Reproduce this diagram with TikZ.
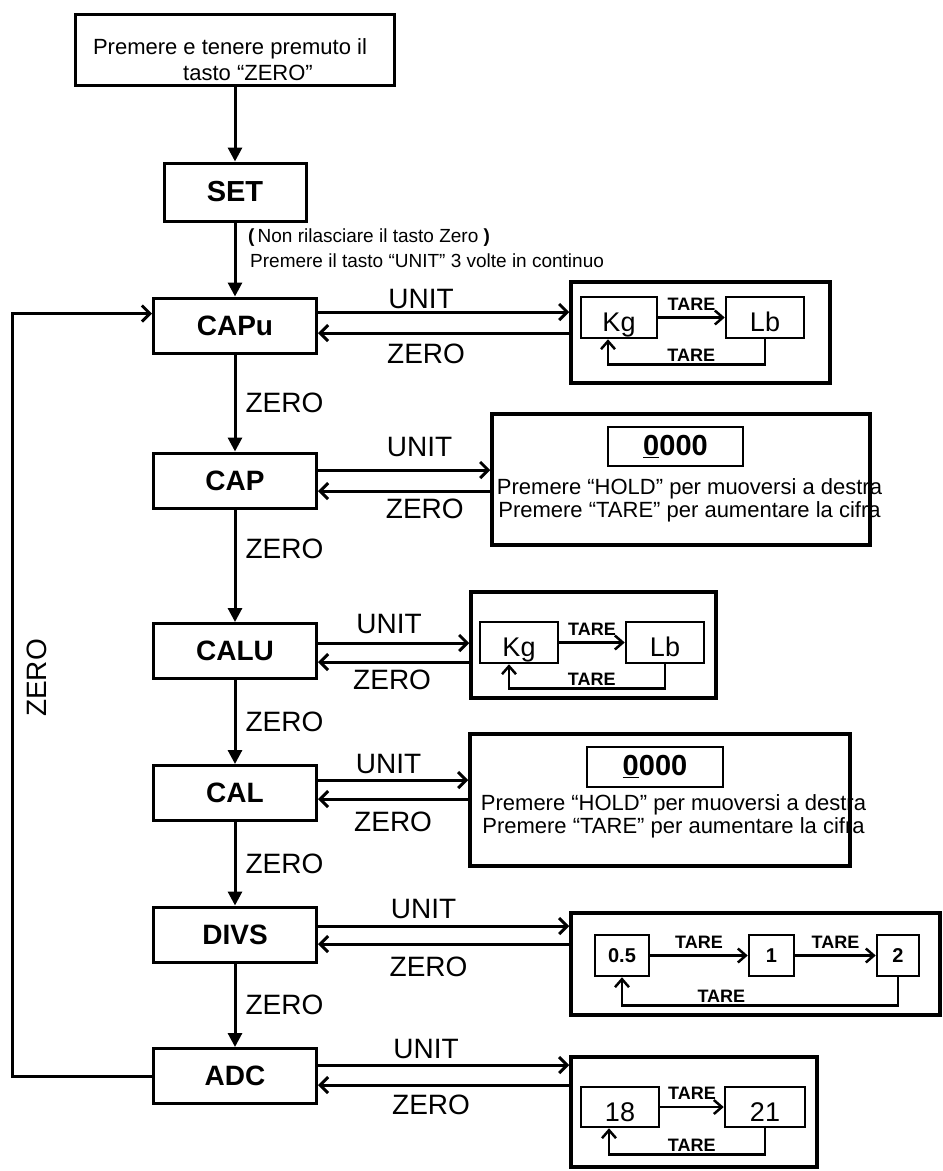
\documentclass[tikz,border=0pt]{standalone}
\usepackage{fontspec}
\setmainfont{Liberation Sans}
\usetikzlibrary{positioning,arrows.meta}

\newcommand{\fsz}[1]{\fontsize{#1}{#1}\selectfont}

\begin{document}
\begin{tikzpicture}[x=1pt,y=-1pt,every node/.style={inner sep=0pt},
  mainbox/.style={draw,line width=3pt,minimum width=163pt,minimum height=55pt,font=\fsz{28}\bfseries},
  outbox/.style={draw,line width=3.5pt},
  inbox/.style={draw,line width=2.5pt,minimum height=41pt,text height=28pt,text depth=0pt,font=\fsz{27}},
  numbox/.style={draw,line width=2.5pt,minimum height=41pt,font=\fsz{20}\bfseries},
  lab/.style={font=\fsz{28}},
  tlab/.style={font=\fsz{18}\bfseries},
  note/.style={font=\fontsize{22}{23}\selectfont,align=center},
  varr/.style={line width=3pt,-{Triangle[length=14pt,width=14pt]}},
  harr/.style={line width=3pt,-{Straight Barb[length=8pt,width=16pt]}},
  iarr/.style={line width=2.5pt,-{Straight Barb[length=8pt,width=14pt]}}]
\useasboundingbox (0,0) rectangle (943,1171);

% main column
\node[draw,line width=3pt,minimum width=319pt,minimum height=71pt] (start) at (235,49.5) {};
\node[font=\fontsize{22}{26}\selectfont,align=center] (starttxt) at (230,60)
  {Premere e tenere premuto il\\\hspace*{36pt}tasto “ZERO”};
\node[mainbox,minimum width=142pt,minimum height=58pt,font=\fsz{29}\bfseries] (set) at (235,192) {SET};
\node[anchor=west,font=\fsz{19}] (hint1) at (248,238) {\textbf{(}\,Non rilasciare il tasto Zero \textbf{)}};
\node[anchor=west,font=\fsz{19}] (hint2) at (250,261) {Premere il tasto “UNIT” 3 volte in continuo};
\node[mainbox] (capu) at (235,325.5) {CAPu};
\node[mainbox] (cap)  at (235,480.5) {CAP};
\node[mainbox] (calu) at (235,651)   {CALU};
\node[mainbox] (cal)  at (235,793)   {CAL};
\node[mainbox] (divs) at (235,934.5) {DIVS};
\node[mainbox] (adc)  at (235,1076)  {ADC};

\draw[varr] (start) -- (set);
\draw[varr] (set) -- (capu);
\draw[varr] (capu) -- node[lab,right=9pt]{ZERO} (cap);
\draw[varr] (cap) -- node[lab,right=9pt,pos=0.35]{ZERO} (calu);
\draw[varr] (calu) -- node[lab,right=9pt]{ZERO} (cal);
\draw[varr] (cal) -- node[lab,right=9pt]{ZERO} (divs);
\draw[varr] (divs) -- node[lab,right=9pt]{ZERO} (adc);

% loop back
\coordinate (loopx) at (12,0);
\coordinate (loopin) at ([yshift=12pt]capu.west);
\draw[harr] (adc.west) -- (adc.west -| loopx) |- (loopin);
\node[lab,rotate=90] (looplab) at (37,678) {ZERO};

% setting panels
\node[outbox,minimum width=259pt,minimum height=101pt] (subA) at (700.5,332.5) {};
\node[outbox,minimum width=378pt,minimum height=131pt] (subB) at (681,479.5) {};
\node[outbox,minimum width=245pt,minimum height=106pt] (subC) at (593.5,645) {};
\node[outbox,minimum width=380pt,minimum height=132pt] (subD) at (660,800) {};
\node[outbox,minimum width=369pt,minimum height=102pt] (subE) at (755.5,964) {};
\node[outbox,minimum width=246pt,minimum height=110pt] (subF) at (694,1112) {};

% main <-> panels
\coordinate (u1) at ([yshift=13.5pt]capu.east);
\coordinate (z1) at ([yshift=-7.5pt]capu.east);
\draw[harr] (u1) -- (u1 -| subA.west) node[lab,pos=0.41,above=2pt]{UNIT};
\draw[harr] (z1 -| subA.west) -- (z1) node[lab,pos=0.57,below=9pt]{ZERO};

\coordinate (u2) at ([yshift=10.5pt]cap.east);
\coordinate (z2) at ([yshift=-10.5pt]cap.east);
\draw[harr] (u2) -- (u2 -| subB.west) node[lab,pos=0.59,above=12pt]{UNIT};
\draw[harr] (z2 -| subB.west) -- (z2) node[lab,pos=0.38,below=6pt]{ZERO};

\coordinate (u3) at ([yshift=8pt]calu.east);
\coordinate (z3) at ([yshift=-11pt]calu.east);
\draw[harr] (u3) -- (u3 -| subC.west) node[lab,pos=0.47,above=8pt]{UNIT};
\draw[harr] (z3 -| subC.west) -- (z3) node[lab,pos=0.51,below=6pt]{ZERO};

\coordinate (u4) at ([yshift=13pt]cal.east);
\coordinate (z4) at ([yshift=-6pt]cal.east);
\draw[harr] (u4) -- (u4 -| subD.west) node[lab,pos=0.47,above=5pt]{UNIT};
\draw[harr] (z4 -| subD.west) -- (z4) node[lab,pos=0.5,below=11pt]{ZERO};

\coordinate (u5) at ([yshift=8.5pt]divs.east);
\coordinate (z5) at ([yshift=-9.5pt]divs.east);
\draw[harr] (u5) -- (u5 -| subE.west) node[lab,pos=0.42,above=6pt]{UNIT};
\draw[harr] (z5 -| subE.west) -- (z5) node[lab,pos=0.56,below=11pt]{ZERO};

\coordinate (u6) at ([yshift=11pt]adc.east);
\coordinate (z6) at ([yshift=-9pt]adc.east);
\draw[harr] (u6) -- (u6 -| subF.west) node[lab,pos=0.43,above=5pt]{UNIT};
\draw[harr] (z6 -| subF.west) -- (z6) node[lab,pos=0.55,below=8pt]{ZERO};

% panel A: unit
\node[inbox,minimum width=76pt] (kgA) at (619,317.5) {Kg};
\node[inbox,minimum width=78pt] (lbA) at (765,317.5) {Lb};
\draw[iarr] (kgA) -- node[tlab,above=6pt]{TARE} (lbA);
\draw[iarr] (lbA.south) -- ++(0,25) -| ([xshift=-11pt]kgA.south) node[tlab,pos=0.235,above=2pt]{TARE};

% panel B: capacity
\node[draw,line width=2.5pt,minimum width=135pt,minimum height=39pt,font=\fsz{29}\bfseries] (digB) at (675.5,446.5) {\underline{0}000};
\node[note] (noteB) at (689.5,500) {Premere “HOLD” per muoversi a destra\\Premere “TARE” per aumentare la cifra};

% panel C: unit
\node[inbox,minimum width=78pt] (kgC) at (519,642.5) {Kg};
\node[inbox,minimum width=78pt] (lbC) at (665,642.5) {Lb};
\draw[iarr] (kgC) -- node[tlab,above=6pt]{TARE} (lbC);
\draw[iarr] (lbC.south) -- ++(0,24) -| ([xshift=-10pt]kgC.south) node[tlab,pos=0.235,above=2pt]{TARE};

% panel D: calibration
\node[draw,line width=2.5pt,minimum width=136pt,minimum height=40pt,font=\fsz{29}\bfseries] (digD) at (655,767) {\underline{0}000};
\node[note] (noteD) at (673.5,816) {Premere “HOLD” per muoversi a destra\\Premere “TARE” per aumentare la cifra};

% panel E: division
\node[numbox,minimum width=54pt] (d05) at (622,955.5) {0.5};
\node[numbox,minimum width=45pt] (d1)  at (771.5,955.5) {1};
\node[numbox,minimum width=42pt] (d2)  at (898,955.5) {2};
\draw[iarr] (d05) -- node[tlab,above=6pt]{TARE} (d1);
\draw[iarr] (d1) -- node[tlab,above=6pt]{TARE} (d2);
\draw[iarr] (d2.south) -- ++(0,28) -| (d05.south) node[tlab,pos=0.32,above=2pt]{TARE};

% panel F: adc
\node[inbox,minimum width=78pt,minimum height=40pt] (a18) at (620,1107) {18};
\node[inbox,minimum width=80pt,minimum height=40pt] (a21) at (765,1107) {21};
\draw[iarr] (a18) -- node[tlab,above=6pt]{TARE} (a21);
\draw[iarr] (a21.south) -- ++(0,26) -| ([xshift=-11pt]a18.south) node[tlab,pos=0.235,above=2pt]{TARE};
\end{tikzpicture}
\end{document}
